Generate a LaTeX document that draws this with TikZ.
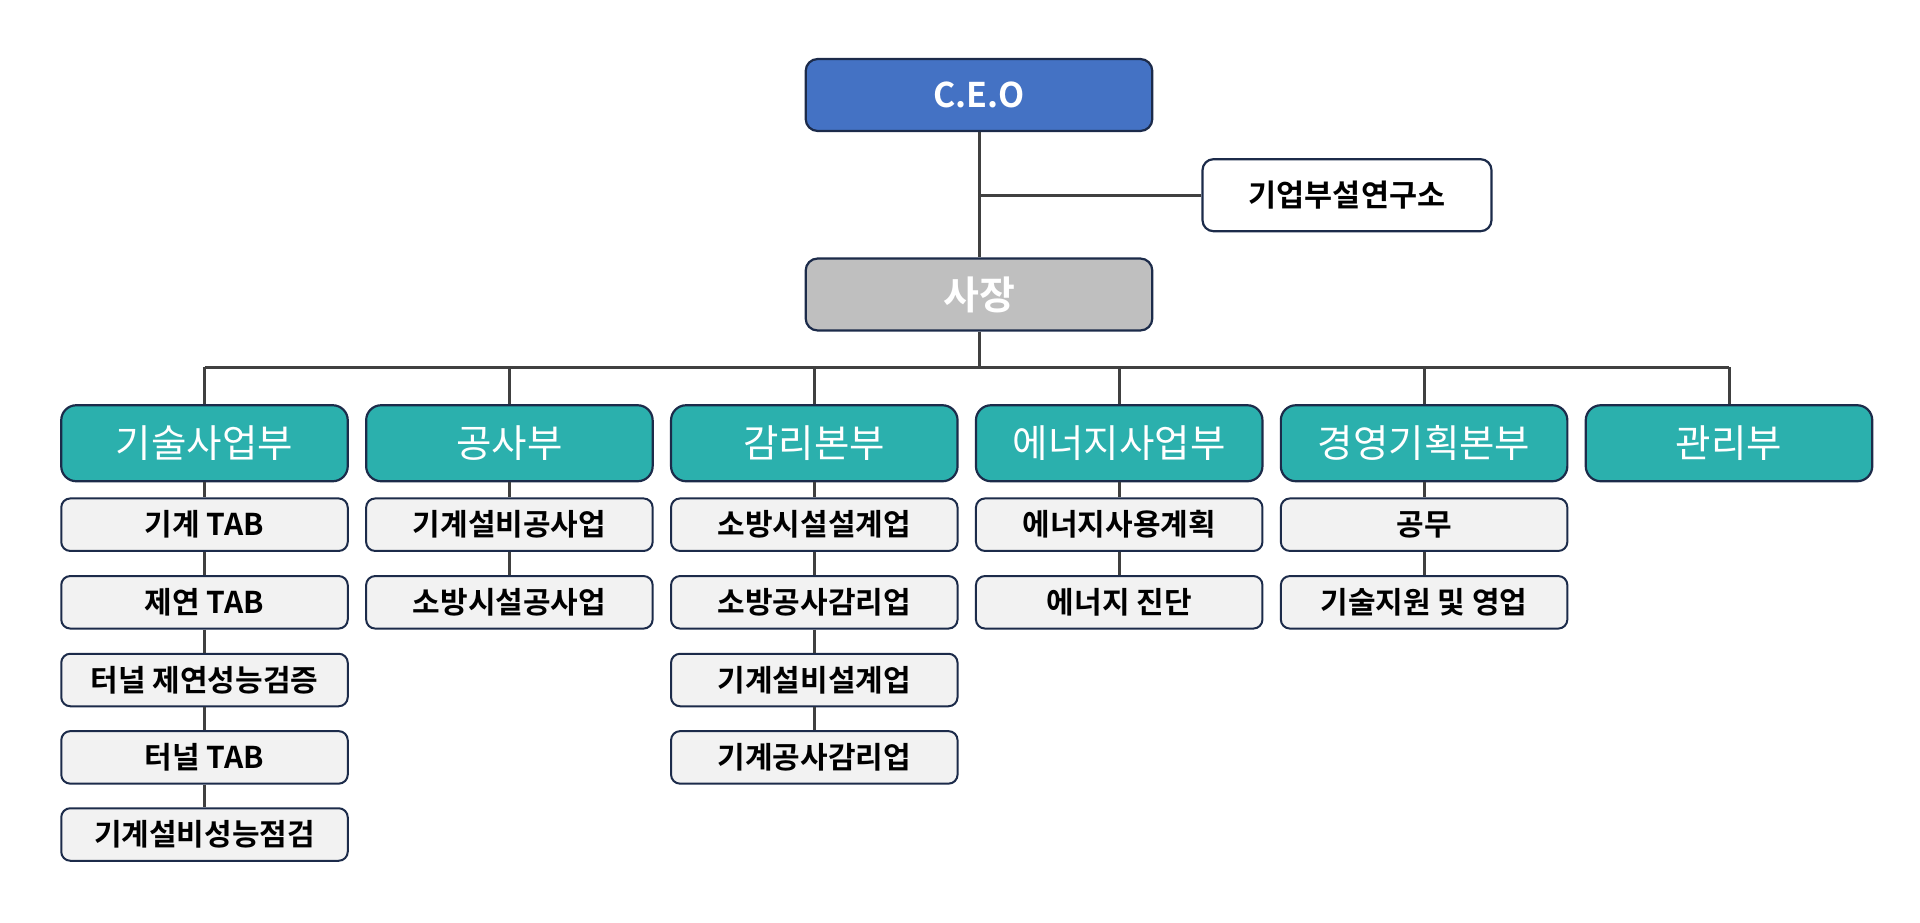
\documentclass[tikz,border=0pt]{standalone}
\usepackage{fontspec}
\setmainfont{Noto Sans CJK KR}
\newfontfamily\kr{Noto Sans CJK KR}
\newfontfamily\krb{Noto Sans CJK KR Bold}
\definecolor{ceoblue}{HTML}{4472C4}
\definecolor{presgray}{HTML}{BFBFBF}
\definecolor{teal}{HTML}{2BB0AD}
\definecolor{subfill}{HTML}{F2F2F2}
\definecolor{border}{HTML}{1C2B4A}
\definecolor{linec}{HTML}{404040}
\tikzset{
  topbox/.style={draw=border, line width=2.2pt, rounded corners=12pt, minimum width=346.6pt, minimum height=72pt, inner sep=0pt, text=white},
  labbox/.style={draw=border, line width=2.2pt, rounded corners=11pt, fill=white, minimum width=289pt, minimum height=72pt, inner sep=0pt, font=\krb\fontsize{30.5}{30.5}\selectfont},
  deptbox/.style={draw=border, line width=2.2pt, rounded corners=15pt, fill=teal, minimum width=286.5pt, minimum height=76pt, inner sep=0pt, text=white, font=\kr\fontsize{38.5}{38.5}\selectfont},
  subbox/.style={draw=border, line width=2pt, rounded corners=9pt, fill=subfill, minimum width=286.5pt, minimum height=52.5pt, inner sep=0pt, font=\krb\fontsize{30}{30}\selectfont},
  conn/.style={draw=linec, line width=3pt}
}
\begin{document}
\begin{tikzpicture}[x=1pt,y=-1pt]
\useasboundingbox (0,0) rectangle (1920,923);
% top
\node[topbox, fill=ceoblue, font=\krb\fontsize{34}{34}\selectfont] (ceo) at (979,95) {C.E.O};
\node[topbox, fill=presgray, font=\krb\fontsize{39}{39}\selectfont] (pres) at (979,294.5) {사장};
\node[labbox] (lab) at (1347,195.2) {기업부설연구소};
\draw[conn] (ceo.south) -- (pres.north);
\draw[conn] (lab.west) -- (lab.west -| ceo.south);
% departments
\foreach \i/\x/\t in {1/204.5/기술사업부, 2/509.4/공사부, 3/814.3/감리본부, 4/1119.2/에너지사업부, 5/1424.1/경영기획본부, 6/1729/관리부}{
  \node[deptbox] (d\i) at (\x,443.25) {\t};
}
\coordinate (bus) at (979,367.3);
\draw[conn] (pres.south) -- (bus);
\draw[conn] (d1.north |- bus) -- (d6.north |- bus);
\foreach \i in {1,...,6}{
  \draw[conn] (d\i.north) -- (d\i.north |- bus);
}
% sub units
\node[subbox] (s11) at (204.5,524.7) {기계 TAB};
\node[subbox] (s12) at (204.5,602.3) {제연 TAB};
\node[subbox] (s13) at (204.5,680.0) {터널 제연성능검증};
\node[subbox] (s14) at (204.5,757.4) {터널 TAB};
\node[subbox] (s15) at (204.5,834.5) {기계설비성능점검};
\node[subbox] (s21) at (509.4,524.7) {기계설비공사업};
\node[subbox] (s22) at (509.4,602.3) {소방시설공사업};
\node[subbox] (s31) at (814.3,524.7) {소방시설설계업};
\node[subbox] (s32) at (814.3,602.3) {소방공사감리업};
\node[subbox] (s33) at (814.3,680.0) {기계설비설계업};
\node[subbox] (s34) at (814.3,757.4) {기계공사감리업};
\node[subbox] (s41) at (1119.2,524.7) {에너지사용계획};
\node[subbox] (s42) at (1119.2,602.3) {에너지 진단};
\node[subbox] (s51) at (1424.1,524.7) {공무};
\node[subbox] (s52) at (1424.1,602.3) {기술지원 및 영업};
\draw[conn] (d1.south) -- (s11.north) (s11.south) -- (s12.north) (s12.south) -- (s13.north) (s13.south) -- (s14.north) (s14.south) -- (s15.north);
\draw[conn] (d2.south) -- (s21.north) (s21.south) -- (s22.north);
\draw[conn] (d3.south) -- (s31.north) (s31.south) -- (s32.north) (s32.south) -- (s33.north) (s33.south) -- (s34.north);
\draw[conn] (d4.south) -- (s41.north) (s41.south) -- (s42.north);
\draw[conn] (d5.south) -- (s51.north) (s51.south) -- (s52.north);
\end{tikzpicture}
\end{document}
